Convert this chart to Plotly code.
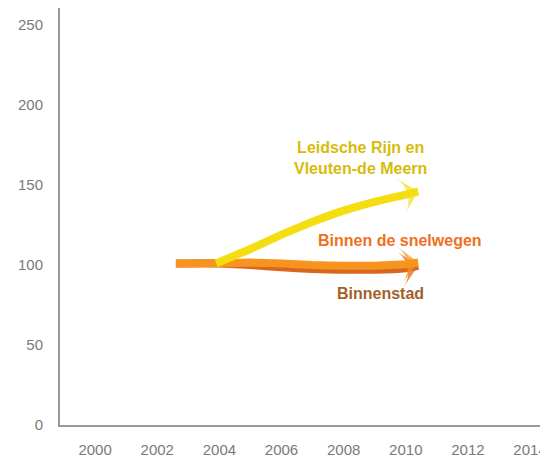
import plotly.graph_objects as go

COR_AMARELO = "#F4DE12"
COR_LARANJA = "#F7941D"
COR_CASTANHO = "#D9661E"

# Leidsche Rijn en Vleuten-de Meern
anos_lr = [2003.9, 2005, 2006, 2007, 2008, 2009, 2010, 2010.4]
idx_lr = [101, 110, 119, 127, 134, 139.5, 144, 146]

# Binnen de snelwegen
anos_bs = [2002.6, 2004, 2005, 2006, 2007, 2008, 2009, 2010, 2010.4]
idx_bs = [101, 101, 101.5, 101, 100, 99.5, 99.5, 100.5, 101.5]

# Binnenstad
anos_bi = [2002.6, 2004, 2005, 2006, 2007, 2008, 2009, 2010, 2010.4]
idx_bi = [101, 101, 100, 98.5, 97.5, 97, 97, 98, 99.5]

anos_ticks = [2000, 2002, 2004, 2006, 2008, 2010, 2012, 2014]
idx_ticks = [0, 50, 100, 150, 200, 250]

rotulos = ["Leidsche Rijn en<br>Vleuten-de Meern", "Binnen de snelwegen", "Binnenstad"]
rotulos_x = [2008.55, 2009.8, 2009.2]
rotulos_y = [167, 115.5, 82]
rotulos_cor = ["#D6BC0A", "#F0701E", "#A3602A"]


def serie(anos, valores, cor):
    simbolos = ["circle"] * (len(anos) - 1) + ["arrow-wide"]
    tamanhos = [0] * (len(anos) - 1) + [26]
    return go.Scatter(
        x=anos, y=valores, mode="lines+markers",
        line=dict(color=cor, width=8, shape="spline", smoothing=0.3),
        marker=dict(symbol=simbolos, size=tamanhos, color=cor, angleref="previous",
                    line=dict(width=0)),
        showlegend=False, hoverinfo="skip",
    )


fig = go.Figure()
fig.add_trace(serie(anos_bi, idx_bi, COR_CASTANHO))
fig.add_trace(serie(anos_bs, idx_bs, COR_LARANJA))
fig.add_trace(serie(anos_lr, idx_lr, COR_AMARELO))

for texto, x, y, cor in zip(rotulos, rotulos_x, rotulos_y, rotulos_cor):
    fig.add_annotation(x=x, y=y, text="<b>" + texto + "</b>", showarrow=False,
                       font=dict(family="Liberation Sans, Arial", size=16, color=cor),
                       align="center")

fig.update_xaxes(range=[1998.87, 2014.32], tickvals=anos_ticks, showgrid=False,
                 showline=True, linecolor="#9a9a9a", linewidth=2, zeroline=False,
                 ticks="", ticklabelstandoff=10, automargin=False,
                 ticklabeloverflow="allow",
                 tickfont=dict(family="Liberation Sans, Arial", size=15, color="#7a7a7a"))
fig.update_yaxes(range=[0, 260.6], tickvals=idx_ticks, showgrid=False,
                 showline=True, linecolor="#9a9a9a", linewidth=2, zeroline=False,
                 ticks="", ticklabelstandoff=12, automargin=False,
                 tickfont=dict(family="Liberation Sans, Arial", size=15, color="#7a7a7a"))
fig.update_layout(width=540, height=458, plot_bgcolor="white", paper_bgcolor="white",
                  margin=dict(l=60, r=0, t=8, b=33))

# tira a margem do body para a figura ocupar a janela toda
fig.write_html("out.html", config={"displayModeBar": False},
               post_script="document.body.style.margin='0';document.body.style.overflow='hidden';")
